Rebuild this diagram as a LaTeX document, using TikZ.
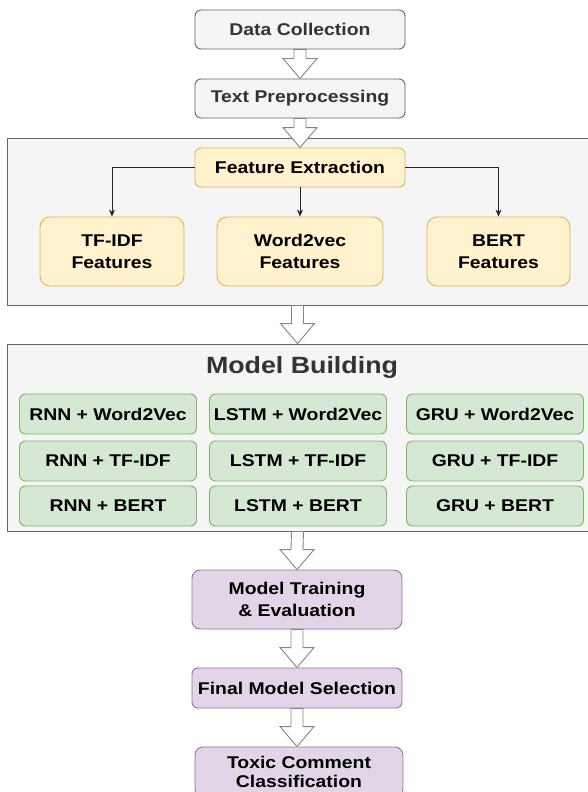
\documentclass[tikz,border=0pt]{standalone}
\usepackage{fontspec}
\setmainfont{Liberation Sans}[FakeStretch=1.14]
\usetikzlibrary{arrows.meta,calc}

\definecolor{grayfill}{HTML}{F5F5F5}
\definecolor{grayline}{HTML}{666666}
\definecolor{graytext}{HTML}{333333}
\definecolor{featfill}{HTML}{FFF2CC}
\definecolor{featline}{HTML}{D6B656}
\definecolor{modelfill}{HTML}{D5E8D4}
\definecolor{modelline}{HTML}{82B366}
\definecolor{evalfill}{HTML}{E1D5E7}
\definecolor{evalline}{HTML}{9673A6}

\tikzset{
  stepbox/.style={rectangle, rounded corners=6pt, line width=0.9pt, align=center,
    inner sep=0pt, font=\bfseries\fontsize{17}{22}\selectfont},
  graybox/.style={stepbox, draw=grayline, fill=grayfill, text=graytext},
  featbox/.style={stepbox, draw=featline, fill=featfill, rounded corners=10pt},
  modelbox/.style={stepbox, draw=modelline, fill=modelfill},
  evalbox/.style={stepbox, draw=evalline, fill=evalfill, rounded corners=8pt},
  panel/.style={rectangle, draw=grayline, fill=grayfill, line width=0.9pt, inner sep=0pt},
  blockarr/.style={draw=grayline!80, fill=white, line width=0.9pt},
  thinarr/.style={-{Stealth[length=7pt,width=6pt]}, line width=0.9pt, draw=black!85}
}

% big hollow arrow from #1 (top) down to #2 (tip)
\newcommand{\blockarrow}[2]{%
  \draw[blockarr] ($(#1)+(-6,0)$) -- ($(#2)+(-6,20)$) -- ($(#2)+(-17,20)$)
    -- (#2) -- ($(#2)+(17,20)$) -- ($(#2)+(6,20)$) -- ($(#1)+(6,0)$) -- cycle;}

\begin{document}
\begin{tikzpicture}[x=1pt,y=1pt]
\useasboundingbox[fill=white] (0,0) rectangle (587,-792);
% Panels
\node[panel, minimum width=581, minimum height=167] (fpanel) at (297.5,-221.5) {};
\node[panel, minimum width=581, minimum height=187] (mpanel) at (297.5,-437.5) {};
% Steps
\node[graybox, minimum width=210, minimum height=39] (dc) at (300,-29.5) {Data Collection};
\node[graybox, minimum width=210, minimum height=39] (tp) at (300,-98.5) {Text Preprocessing};
% Features
\node[featbox, minimum width=210, minimum height=39, rounded corners=6pt] (fe) at (300,-167.5) {Feature Extraction};
\node[featbox, minimum width=144, minimum height=69] (tf) at (112,-251.5) {TF-IDF\\Features};
\node[featbox, minimum width=166, minimum height=69] (wv) at (300,-251.5) {Word2vec\\Features};
\node[featbox, minimum width=143, minimum height=69] (bert) at (498.5,-251.5) {BERT\\Features};
\draw[thinarr] (fe.west) -| (tf.north);
\draw[thinarr] (fe.south) -- (wv.north);
\draw[thinarr] (fe.east) -| (bert.north);
% Models
\node[text=graytext, font=\bfseries\fontsize{23.5}{26}\selectfont] (mb) at (302,-367) {Model Building};
\foreach \m/\cx in {RNN/108, LSTM/298, GRU/495}
  \foreach \f/\cy/\n in {Word2Vec/414/w2v, TF-IDF/461/tfidf, BERT/506/bert}
    \node[modelbox, minimum width=177, minimum height=40] (\m-\n) at (\cx,-\cy) {\m{} + \f};
% Evaluation
\node[evalbox, minimum width=210, minimum height=59] (train) at (297,-599.5) {Model Training\\\& Evaluation};
\node[evalbox, minimum width=210, minimum height=40, rounded corners=6pt] (sel) at (297,-688) {Final Model Selection};
\node[evalbox, minimum width=208, minimum height=50, font=\bfseries\fontsize{17}{19}\selectfont] (toxic) at (299,-772) {Toxic Comment\\Classification};
% Arrows
\blockarrow{dc.south}{tp.north}
\blockarrow{tp.south}{fe.north}
\blockarrow{fpanel.south}{mpanel.north}
\blockarrow{mpanel.south}{train.north}
\blockarrow{train.south}{sel.north}
\blockarrow{sel.south}{toxic.north -| sel.south}
\end{tikzpicture}
\end{document}
